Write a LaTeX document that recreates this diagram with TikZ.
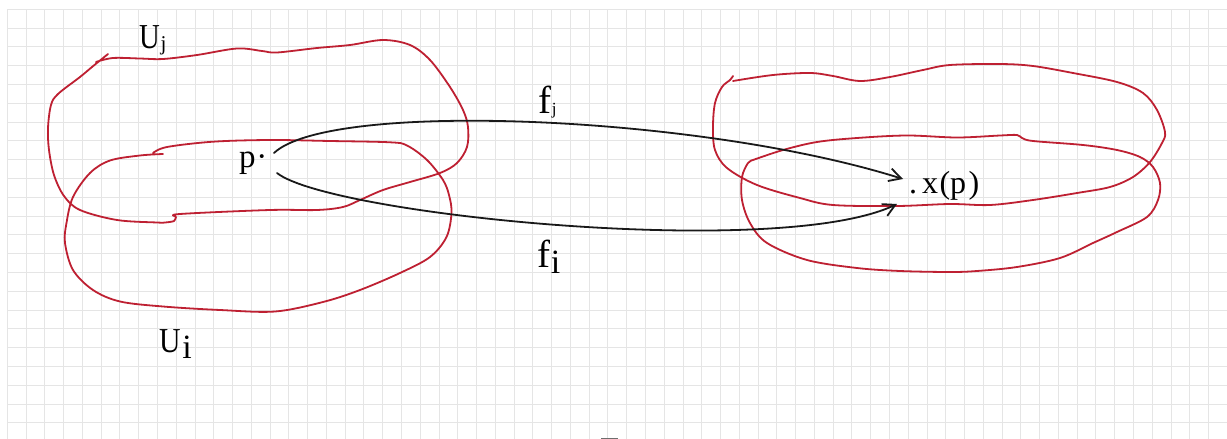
\documentclass[tikz,border=0pt]{standalone}
\usepackage{graphicx}
\usepackage{fontspec}
\setmainfont{Liberation Serif}
\usetikzlibrary{arrows.meta}
\definecolor{inkred}{RGB}{190,32,50}
\definecolor{gridgray}{RGB}{229,229,229}
\definecolor{inkblack}{RGB}{25,25,25}
\definecolor{markgray}{RGB}{110,110,110}
\begin{document}
\begin{tikzpicture}[x=1pt,y=-1pt,
  gridline/.style={draw=gridgray, line width=1pt},
  blob/.style={draw=inkred, line width=1.8pt, line cap=round, line join=round},
  mapline/.style={draw=inkblack, line width=1.8pt, line cap=round,
    -{Straight Barb[length=12pt,width=13pt,line width=1.8pt]}},
  lbl/.style={inner sep=0pt, outer sep=0pt, anchor=base west, text=black},
]
\useasboundingbox (0,0) rectangle (1227,439);
\fill[white] (0,0) rectangle (1227,439);
% grid
\foreach \i in {0,...,65} {
  \draw[gridline] ({7.3+18.77*\i},9.3) -- ({7.3+18.77*\i},439);
}
\foreach \j in {0,...,23} {
  \draw[gridline] (7.3,{9.3+18.8*\j}) -- (1227,{9.3+18.8*\j});
}
% U_j
\draw[blob] plot[smooth, tension=0.55] coordinates {(96,62) (113,58) (140,58.5) (163,59) (197,55) (237,48.5) (262,51) (277,52.5) (317,48) (350,45) (383,40) (410,45) (430,60) (450,87) (463,110) (468,127) (467,147) (457,163) (440,173) (410,182) (383,190) (360,200) (343,207) (317,210) (270,210) (180,214) (176,217) (174,221) (165,222.5) (157,222.5) (117,220) (80,210) (64,196) (54,175) (49,150) (48,128) (51,105) (58,94) (80,77) (92,67) (108,54)};
% U_i
\draw[blob] plot[smooth, tension=0.55] coordinates {(163,154) (140,155.5) (110,160.5) (90,173) (73,197) (66.5,223) (65,243) (73,270) (93,290) (120,301.5) (163,306.5) (220,310) (275,311.5) (323,302) (360,290) (400,273) (430,257) (446.5,237) (451.5,213) (449,195) (443,180) (427,160) (407,145.5) (390,142.3) (330,141) (270,140) (213,141.7) (167,147) (153,153)};
% right upper
\draw[blob] plot[smooth, tension=0.55] coordinates {(733,81) (773,75) (810,73) (833,76) (860,81) (890,77) (923,70) (950,65) (1000,64) (1033,66) (1073,73) (1117,82) (1143,93) (1157,110) (1165,132) (1162,143) (1150,162) (1133,177) (1110,187) (1077,193) (1033,200) (990,205) (950,204) (897,206) (833,205) (800,198) (757,185) (727,168) (715,150) (713,127) (715,103) (722,87) (730,80) (733,76)};
% right lower
\draw[blob] plot[smooth, tension=0.55] coordinates {(753,160) (783,150) (817,142) (857,138) (907,135.5) (957,137.5) (1000,135.5) (1017,135) (1022,138) (1033,141) (1083,145) (1117,150) (1140,157) (1153,167) (1160,183) (1158,200) (1147,217) (1117,232) (1093,243) (1060,258) (1017,267) (977,271) (950,272) (900,271) (857,268) (807,260) (767,243) (750,223) (742,200) (742,177) (748,163) (753,160)};
% labels
\node[lbl, font=\fontsize{35}{40}\selectfont] (Uj) at (139,48) {\scalebox{0.82}[1]{U}\kern1pt\raisebox{-2pt}{\fontsize{21}{21}\selectfont j}};
\node[lbl, font=\fontsize{35}{40}\selectfont] (Ui) at (159,352) {\scalebox{0.85}[1]{U}\kern2pt\raisebox{-6pt}{\fontsize{34}{40}\selectfont i}};
\node[lbl, font=\fontsize{39}{44}\selectfont] (fj) at (538,113) {f\kern1pt\raisebox{-1pt}{\fontsize{17}{17}\selectfont j}};
\node[lbl, font=\fontsize{39}{44}\selectfont] (fi) at (537,267) {f\kern1pt\raisebox{-6pt}{\fontsize{34}{36}\selectfont i}};
\node[lbl, font=\fontsize{33}{38}\selectfont] (p) at (239,167) {p\kern1pt·};
\node[lbl, font=\fontsize{32}{36}\selectfont] (xp) at (909,193) {.\kern5pt x\kern1.5pt(p\kern2.5pt)};
% maps
\coordinate (startj) at (274,153);
\coordinate (endj) at (903,179);
\coordinate (starti) at (277,173);
\coordinate (endi) at (897,204);
\draw[mapline] (startj) .. controls (330,100) and (700,115) .. (endj);
\draw[mapline] (starti) .. controls (330,215) and (780,260) .. (endi);
% cut-off mark at bottom
\fill[markgray] (601,437.5) rectangle (618,439);
\end{tikzpicture}
\end{document}
